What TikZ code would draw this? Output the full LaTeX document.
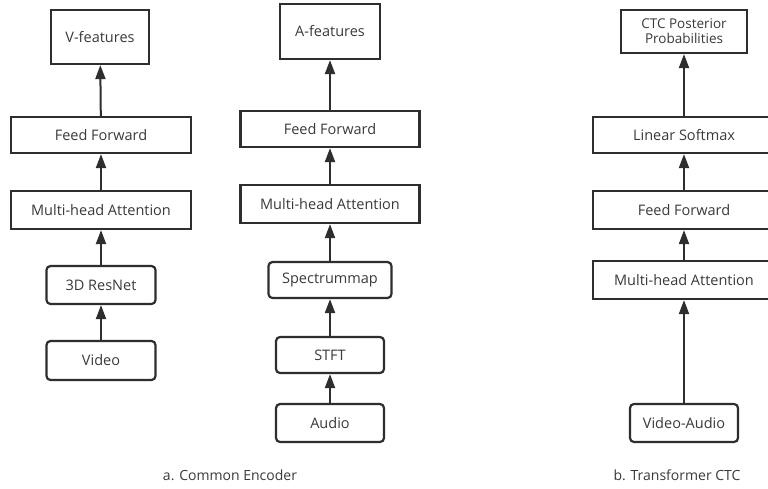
\documentclass[tikz,border=0pt]{standalone}
\usepackage{fontspec}
\setmainfont{Open Sans}
\usetikzlibrary{arrows.meta}
\definecolor{ink}{HTML}{2E2E2E}
\definecolor{txt}{HTML}{3A3A3A}
\tikzset{
  sq/.style={draw=ink, line width=2.2pt, fill=white, inner sep=0pt, text=txt, font=\fontsize{14.5}{16}\selectfont, align=center},
  rd/.style={sq, rounded corners=4pt},
  arr/.style={draw=ink, line width=2pt, -{Triangle[length=14pt,width=10pt]}},
  captext/.style={text=txt, font=\fontsize{14}{16}\selectfont}
}
\begin{document}
\begin{tikzpicture}[x=1pt,y=-1pt]
\clip (0,0) rectangle (768,488);
\fill[white] (0,0) rectangle (768,488);
% column a1
\node[sq, minimum width=98pt, minimum height=54pt] (vf) at (100,37) {V-features};
\node[sq, minimum width=180pt, minimum height=36pt] (ff1) at (101,135) {Feed Forward};
\node[sq, minimum width=180pt, minimum height=38pt] (mha1) at (101,210) {Multi-head Attention};
\node[rd, minimum width=109pt, minimum height=38pt] (res) at (101,285) {3D ResNet};
\node[rd, minimum width=109pt, minimum height=39pt] (vid) at (101,360.5) {Video};
% column a2
\node[sq, minimum width=100pt, minimum height=55pt] (af) at (330,31.5) {A-features};
\node[sq, minimum width=179pt, minimum height=36pt] (ff2) at (330,129) {Feed Forward};
\node[sq, minimum width=179pt, minimum height=38pt] (mha2) at (330,204) {Multi-head Attention};
\node[rd, minimum width=123pt, minimum height=36pt] (spec) at (330,280) {Spectrummap};
\node[rd, minimum width=108pt, minimum height=36pt] (stft) at (330,355) {STFT};
\node[rd, minimum width=108pt, minimum height=38pt] (aud) at (330,423) {Audio};
% column b
\node[sq, minimum width=126pt, minimum height=43pt, font=\fontsize{13.5}{15}\selectfont] (ctc) at (684,31.5) {CTC Posterior\\Probabilities};
\node[sq, minimum width=182pt, minimum height=36pt] (ls) at (684,135) {Linear Softmax};
\node[sq, minimum width=182pt, minimum height=38pt] (ff3) at (684,210) {Feed Forward};
\node[sq, minimum width=182pt, minimum height=38pt] (mha3) at (684,280) {Multi-head Attention};
\node[rd, minimum width=108pt, minimum height=38pt] (va) at (684,423) {Video-Audio};
% arrows
\draw[arr] (vid) -- (res);
\draw[arr] (res) -- (mha1);
\draw[arr] (mha1) -- (ff1);
\draw[arr] (ff1) -- (vf);
\draw[arr] (aud) -- (stft);
\draw[arr] (stft) -- (spec);
\draw[arr] (spec) -- (mha2);
\draw[arr] (mha2) -- (ff2);
\draw[arr] (ff2) -- (af);
\draw[arr] (va) -- (mha3);
\draw[arr] (mha3) -- (ff3);
\draw[arr] (ff3) -- (ls);
\draw[arr] (ls) -- (ctc);
% captions
\node[captext] (capa) at (230,475) {a. Common Encoder};
\node[captext] (capb) at (677,475) {b. Transformer CTC};
\end{tikzpicture}
\end{document}
